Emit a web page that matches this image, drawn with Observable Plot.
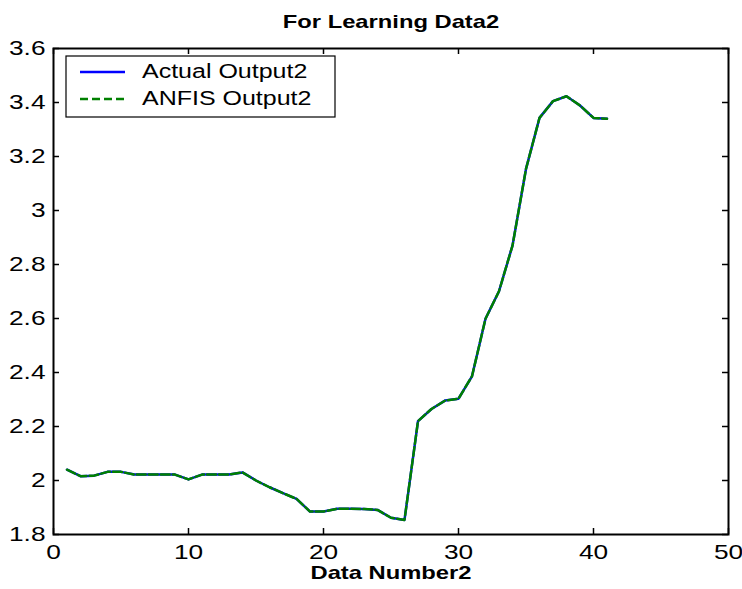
<!DOCTYPE html>
<html>
<head>
<meta charset="utf-8">
<script src="https://cdn.jsdelivr.net/npm/d3@7"></script>
<script src="https://cdn.jsdelivr.net/npm/@observablehq/plot@0.6"></script>
<style>
  html, body { margin: 0; padding: 0; background: #fff; }
</style>
</head>
<body>
<div id="chart"></div>
<script>
// ---- data ----
const dataNumber = [1,2,3,4,5,6,7,8,9,10,11,12,13,14,15,16,17,18,19,20,21,22,23,24,25,26,27,28,29,30,31,32,33,34,35,36,37,38,39,40,41];
const actualOutput2 = [2.040,2.016,2.018,2.032,2.032,2.022,2.022,2.022,2.022,2.004,2.022,2.022,2.022,2.030,2.000,1.975,1.953,1.932,1.885,1.885,1.895,1.895,1.894,1.891,1.862,1.854,2.220,2.265,2.296,2.303,2.386,2.599,2.701,2.870,3.154,3.343,3.405,3.423,3.389,3.343,3.340];
const anfisOutput2  = [2.040,2.016,2.018,2.032,2.032,2.022,2.022,2.022,2.022,2.004,2.022,2.022,2.022,2.030,2.000,1.975,1.953,1.932,1.885,1.885,1.895,1.895,1.894,1.891,1.862,1.854,2.220,2.265,2.296,2.303,2.386,2.599,2.701,2.870,3.154,3.343,3.405,3.423,3.389,3.343,3.340];
const seriesNames = ["Actual Output2", "ANFIS Output2"];
const seriesColors = ["#0000ff", "#008000"];
const xTicks = [0, 10, 20, 30, 40, 50];
const xTickLabels = ["0", "10", "20", "30", "40", "50"];
const yTicks = [1.8, 2, 2.2, 2.4, 2.6, 2.8, 3, 3.2, 3.4, 3.6];
const yTickLabels = ["1.8", "2", "2.2", "2.4", "2.6", "2.8", "3", "3.2", "3.4", "3.6"];
const titleText = "For Learning Data2";
const xLabelText = "Data Number2";

// ---- table for Plot ----
const rows = dataNumber.map((x, i) => ({x, actual: actualOutput2[i], anfis: anfisOutput2[i]}));

const W = 742, H = 589, mL = 53, mR = 14, mT = 48, mB = 55;
const innerW = W - mL - mR, innerH = H - mT - mB;
const tickLen = 6;
const fontFam = "'Liberation Sans', Arial, Helvetica, sans-serif";

const chart = Plot.plot({
  width: W, height: H,
  marginLeft: mL, marginRight: mR, marginTop: mT, marginBottom: mB,
  style: {fontFamily: fontFam, background: "#fff", color: "#000", overflow: "visible"},
  x: {domain: [0, 50]},
  y: {domain: [1.8, 3.6]},
  marks: [
    Plot.axisX({ticks: xTicks, tickSize: 0, tickPadding: 10, fontSize: 21, label: null,
      tickFormat: d => xTickLabels[xTicks.indexOf(d)]}),
    Plot.axisY({ticks: yTicks, tickSize: 0, tickPadding: 8, fontSize: 21, label: null,
      tickFormat: d => yTickLabels[yTicks.indexOf(d)]}),
    // inward ticks on all four sides
    Plot.tickX(xTicks, {x: d => d, insetTop: innerH - tickLen, stroke: "#000", strokeWidth: 1.5}),
    Plot.tickX(xTicks, {x: d => d, insetBottom: innerH - tickLen, stroke: "#000", strokeWidth: 1.5}),
    Plot.tickY(yTicks, {y: d => d, insetRight: innerW - tickLen, stroke: "#000", strokeWidth: 1.5}),
    Plot.tickY(yTicks, {y: d => d, insetLeft: innerW - tickLen, stroke: "#000", strokeWidth: 1.5}),
    Plot.line(rows, {x: "x", y: "actual", stroke: seriesColors[0], strokeWidth: 2.5}),
    Plot.line(rows, {x: "x", y: "anfis", stroke: seriesColors[1], strokeWidth: 2.5, strokeDasharray: "9,3"}),
    Plot.frame({stroke: "#000", strokeWidth: 2}),
    Plot.text([titleText], {text: d => d, frameAnchor: "top", lineAnchor: "bottom", dy: -21,
      fontSize: 19, fontWeight: "bold", fill: "#000"}),
    Plot.text([xLabelText], {text: d => d, frameAnchor: "bottom", lineAnchor: "bottom", dy: 44,
      fontSize: 19, fontWeight: "bold", fill: "#000"})
  ]
});

// widen glyphs horizontally like the reference (scale about each text's anchor)
const SX = 1.25;
chart.querySelectorAll("text").forEach(t => {
  const tr = t.getAttribute("transform");
  if (tr) t.setAttribute("transform", tr + ` scale(${SX},1)`);
});

// legend
const svg = d3.select(chart);
const lg = svg.append("g");
lg.append("rect").attr("x", 66).attr("y", 56).attr("width", 269).attr("height", 61)
  .attr("fill", "#fff").attr("stroke", "#000").attr("stroke-width", 1.2);
const rowsY = [72, 99];
seriesNames.forEach((name, i) => {
  lg.append("line").attr("x1", 80).attr("x2", 125).attr("y1", rowsY[i]).attr("y2", rowsY[i])
    .attr("stroke", seriesColors[i]).attr("stroke-width", 2.5)
    .attr("stroke-dasharray", i === 1 ? "8,4" : null);
  lg.append("text").attr("transform", `translate(142,${rowsY[i] + 6}) scale(${SX},1)`)
    .attr("text-anchor", "start")
    .attr("font-family", fontFam).attr("font-size", 20).attr("fill", "#000").text(name);
});

document.getElementById("chart").appendChild(chart);
</script>
</body>
</html>
